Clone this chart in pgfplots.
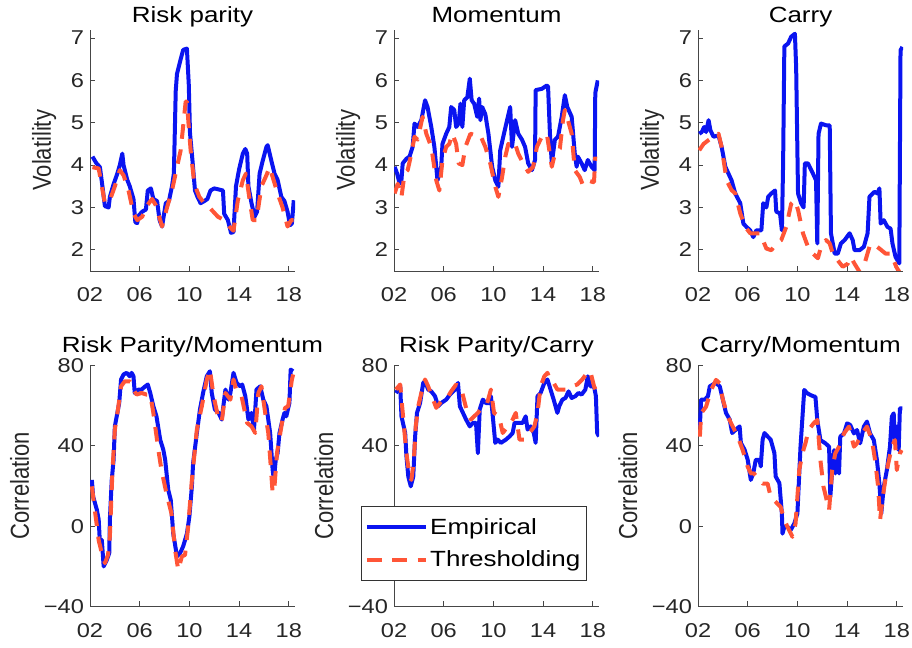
\documentclass[border=0pt]{standalone}
\usepackage{pgfplots}
\pgfplotsset{compat=1.18}
\usepackage{fontspec}
\setmainfont{Liberation Sans}[FakeStretch=1.18]
\newfontfamily\labfont{Liberation Sans}
\definecolor{empblue}{RGB}{10,20,240}
\definecolor{thrred}{RGB}{255,85,55}
\definecolor{axgray}{RGB}{70,70,70}

\pgfplotsset{
panel/.style={
  scale only axis, width=153.75pt, height=181.1pt,
  anchor=south west,
  xmin=2002, xmax=2018.5,
  axis x line*=bottom, axis y line*=left,
  axis line style={axgray, line width=0.6pt, -},
  tick align=inside, major tick length=4pt,
  tick style={axgray, line width=0.6pt},
  xtick={2002,2006,2010,2014,2018},
  xticklabels={02,06,10,14,18},
  ticklabel style={font=\fontsize{15}{18}\selectfont, text=black!85},
  xticklabel style={yshift=-9pt},
  yticklabel style={xshift=-1pt},
  every axis y label/.style={at={(ticklabel cs:0.5)}, anchor=near ticklabel, xscale=1.18, rotate=90},
  ylabel style={font=\labfont\fontsize{16.5}{19}\selectfont, text=black!85},
  ylabel shift=3.5pt,
  title style={font=\fontsize{16.5}{19}\selectfont, anchor=base},
},
vol/.style={panel, ymin=1.5, ymax=7.2, ytick={2,3,4,5,6,7}, yticklabels={2,3,4,5,6,7},
  ylabel={Volatility}, title style={yshift=-0.75pt}},
cor/.style={panel, ymin=-40, ymax=80, ytick={-40,0,40,80}, yticklabels={−40,0,40,80},
  ylabel={Correlation}, title style={yshift=3.5pt}},
empline/.style={empblue, line width=3pt, line join=round, no marks},
thrline/.style={thrred, line width=3pt, dash pattern=on 11pt off 8pt, line join=round, no marks},
}

\begin{document}
\begin{tikzpicture}

% ---- volatility, top row ----
\begin{axis}[vol, at={(67.5pt,282.75pt)}, title={Risk parity}]
\addplot[empline] coordinates {
(2002.2,4.2) (2002.5,4.05) (2002.8,3.95) (2003.0,3.5) (2003.2,3.03) (2003.5,3.0) (2003.6,3.25)
(2003.9,3.55) (2004.2,3.8) (2004.4,4.0) (2004.6,4.27) (2004.7,4.0) (2005.0,3.65) (2005.2,3.5)
(2005.5,3.2) (2005.65,2.65) (2005.8,2.63) (2005.9,2.8) (2006.2,2.9) (2006.5,2.95) (2006.65,3.4)
(2006.9,3.45) (2007.1,3.2) (2007.4,3.15) (2007.6,2.7) (2007.8,2.55) (2008.1,3.1) (2008.35,3.15)
(2008.6,3.5) (2008.75,3.8) (2008.9,5.75) (2009.0,6.15) (2009.3,6.5) (2009.5,6.72) (2009.8,6.75)
(2009.95,5.9) (2010.05,4.75) (2010.25,4.1) (2010.45,3.4) (2010.65,3.25) (2010.9,3.1) (2011.2,3.15)
(2011.45,3.2) (2011.7,3.4) (2012.0,3.45) (2012.7,3.4) (2012.8,2.85) (2013.1,2.7) (2013.35,2.4)
(2013.55,2.42) (2013.75,3.5) (2014.0,3.9) (2014.3,4.27) (2014.5,4.38) (2014.65,4.27) (2014.75,3.5)
(2015.0,3.1) (2015.25,2.78) (2015.45,2.9) (2015.65,3.8) (2015.9,4.1) (2016.2,4.43) (2016.3,4.47)
(2016.6,4.1) (2016.85,3.8) (2017.1,3.65) (2017.4,3.25) (2017.65,3.15) (2017.9,2.9) (2018.1,2.58)
(2018.25,2.62) (2018.4,3.17)
};
\addplot[thrline] coordinates {
(2002.2,3.95) (2002.7,3.92) (2002.95,3.5) (2003.2,3.1) (2003.6,3.17) (2004.0,3.5) (2004.4,3.88)
(2004.7,3.76) (2005.1,3.4) (2005.5,2.86) (2005.8,2.7) (2006.2,2.78) (2006.6,3.05) (2007.0,3.2)
(2007.3,3.05) (2007.7,2.65) (2007.8,2.55) (2008.2,3.0) (2008.6,3.4) (2009.0,3.95) (2009.3,4.35)
(2009.7,5.5) (2009.8,5.5) (2009.95,4.9) (2010.1,4.35) (2010.4,3.55) (2010.8,3.25) (2011.2,3.1)
(2011.7,2.97) (2012.3,2.78) (2012.8,2.7) (2013.2,2.55) (2013.55,2.45) (2013.9,3.17) (2014.3,3.64)
(2014.55,3.8) (2014.85,3.17) (2015.1,2.7) (2015.4,2.7) (2015.8,3.5) (2016.2,3.76) (2016.45,3.95)
(2016.7,3.72) (2017.1,3.33) (2017.5,3.0) (2017.9,2.55) (2018.2,2.7) (2018.5,2.7)
};
\end{axis}

\begin{axis}[vol, at={(295.5pt,282.75pt)}, title={Momentum}]
\addplot[empline] coordinates {
(2002.05,3.96) (2002.25,3.8) (2002.45,3.56) (2002.6,3.65) (2002.7,4.04) (2003.0,4.15) (2003.25,4.2)
(2003.5,4.43) (2003.65,4.98) (2003.9,4.9) (2004.2,5.06) (2004.5,5.53) (2004.7,5.37) (2005.0,4.9)
(2005.25,4.43) (2005.5,3.64) (2005.65,3.8) (2005.8,3.96) (2005.9,4.5) (2006.2,4.74) (2006.45,4.9)
(2006.6,5.37) (2006.85,5.3) (2007.0,4.9) (2007.2,4.98) (2007.35,5.45) (2007.5,4.9) (2007.65,5.53)
(2007.9,5.6) (2008.1,6.04) (2008.25,5.53) (2008.45,5.45) (2008.7,5.14) (2008.85,5.57) (2008.95,5.06)
(2009.1,5.37) (2009.35,5.2) (2009.6,4.74) (2009.9,3.96) (2010.15,3.64) (2010.4,3.49) (2010.55,4.35)
(2010.85,4.74) (2011.1,5.06) (2011.35,5.37) (2011.5,4.43) (2011.75,5.06) (2012.0,4.74) (2012.3,4.6)
(2012.55,4.43) (2012.8,4.04) (2013.1,3.88) (2013.35,4.12) (2013.4,5.77) (2013.9,5.8) (2014.3,5.88)
(2014.4,5.85) (2014.55,4.74) (2014.7,4.04) (2014.95,4.6) (2015.2,4.67) (2015.5,5.14) (2015.75,5.65)
(2015.95,5.37) (2016.3,5.14) (2016.55,4.27) (2016.7,3.96) (2016.8,4.2) (2017.1,4.04) (2017.35,3.88)
(2017.6,4.12) (2017.9,3.96) (2018.15,3.88) (2018.2,5.7) (2018.4,6.0)
};
\addplot[thrline] coordinates {
(2002.05,3.33) (2002.3,3.56) (2002.6,3.25) (2002.85,3.8) (2003.1,3.88) (2003.4,4.27) (2003.65,4.67)
(2003.9,4.6) (2004.3,5.14) (2004.6,4.74) (2005.0,4.43) (2005.4,3.64) (2005.65,3.4) (2005.9,4.12)
(2006.2,4.43) (2006.45,4.5) (2006.7,4.74) (2007.0,4.5) (2007.2,4.04) (2007.5,4.0) (2007.75,4.43)
(2008.15,4.74) (2008.55,4.7) (2008.95,4.7) (2009.35,4.43) (2009.75,4.04) (2010.15,3.49) (2010.4,3.25)
(2010.7,3.72) (2010.95,4.19) (2011.2,4.5) (2011.5,4.43) (2011.75,4.5) (2012.0,4.27) (2012.4,4.04)
(2012.8,3.84) (2013.2,3.96) (2013.5,4.43) (2013.9,4.67) (2014.3,4.74) (2014.7,3.96) (2014.95,4.27)
(2015.35,4.39) (2015.6,5.06) (2015.75,5.3) (2016.0,5.06) (2016.3,4.74) (2016.55,3.88) (2016.95,3.72)
(2017.2,3.53) (2017.6,3.64) (2018.0,3.6) (2018.1,3.6) (2018.2,4.2)
};
\end{axis}

\begin{axis}[vol, at={(523.5pt,282.75pt)}, title={Carry}]
\addplot[empline] coordinates {
(2002.1,4.74) (2002.3,4.78) (2002.5,4.9) (2002.65,4.78) (2002.85,5.06) (2003.0,4.82) (2003.25,4.67)
(2003.65,4.7) (2003.9,4.43) (2004.2,3.96) (2004.45,3.8) (2004.7,3.64) (2005.0,3.33) (2005.4,3.1)
(2005.65,2.62) (2005.9,2.54) (2006.2,2.46) (2006.45,2.3) (2006.7,2.46) (2006.95,2.46) (2007.1,2.46)
(2007.25,3.1) (2007.5,3.0) (2007.65,3.25) (2007.9,3.33) (2008.2,3.4) (2008.3,2.9) (2008.6,2.86)
(2008.75,2.46) (2008.85,4.04) (2008.95,6.8) (2009.25,6.87) (2009.5,7.03) (2009.8,7.1) (2009.9,6.3)
(2010.05,3.33) (2010.3,3.1) (2010.5,3.0) (2010.6,4.04) (2010.85,4.04) (2011.25,3.8) (2011.5,3.64)
(2011.6,2.15) (2011.7,4.74) (2011.9,4.98) (2012.3,4.94) (2012.6,4.94) (2012.7,2.39) (2013.0,1.91)
(2013.25,1.91) (2013.5,2.15) (2013.8,2.23) (2014.2,2.39) (2014.45,2.23) (2014.6,1.99) (2015.0,1.99)
(2015.35,2.07) (2015.65,2.39) (2015.8,3.25) (2016.2,3.37) (2016.45,3.33) (2016.6,3.45) (2016.7,2.62)
(2016.95,2.7) (2017.25,2.54) (2017.5,2.5) (2017.65,2.15) (2017.9,1.83) (2018.2,1.68) (2018.3,6.71)
(2018.45,6.79)
};
\addplot[thrline] coordinates {
(2002.1,4.35) (2002.45,4.5) (2002.85,4.59) (2003.25,4.67) (2003.65,4.74) (2003.9,4.43) (2004.3,3.64)
(2004.7,3.41) (2005.0,3.33) (2005.4,2.86) (2005.8,2.54) (2006.2,2.39) (2006.6,2.39) (2007.0,2.39)
(2007.5,2.03) (2007.9,1.99) (2008.3,2.15) (2008.7,2.23) (2009.1,2.54) (2009.5,3.09) (2009.8,3.17)
(2010.05,2.94) (2010.45,2.39) (2010.85,2.07) (2011.25,1.91) (2011.65,1.8) (2011.9,2.07) (2012.3,2.23)
(2012.6,2.15) (2012.85,1.91) (2013.25,1.75) (2013.65,1.6) (2014.05,1.67) (2014.3,1.83) (2014.6,1.67)
(2015.0,1.48) (2015.4,1.67) (2015.8,2.07) (2016.05,2.15) (2016.6,2.03) (2017.1,1.91) (2017.55,1.91)
(2017.95,1.6) (2018.2,1.48)
};
\end{axis}

% ---- correlation, bottom row ----
\begin{axis}[cor, at={(67.5pt,31pt)}, title={Risk Parity/Momentum}]
\addplot[empline] coordinates {
(2002.15,23) (2002.25,14.8) (2002.55,8.2) (2002.7,3.2) (2002.8,-8.6) (2002.95,-6.8) (2003.1,-20)
(2003.35,-16.8) (2003.55,-13.4) (2003.6,3.2) (2003.75,23) (2003.9,33) (2004.0,49.6) (2004.15,54.6)
(2004.35,61.2) (2004.5,72.9) (2004.7,75.4) (2004.95,76.2) (2005.2,74.5) (2005.35,76.2) (2005.5,74.5)
(2005.6,66.2) (2005.9,67.9) (2006.15,67.9) (2006.45,69.5) (2006.65,70.4) (2006.85,66.2) (2007.1,59.6)
(2007.35,54.6) (2007.65,43) (2007.9,38) (2008.05,33) (2008.3,18) (2008.5,13) (2008.7,-3.7)
(2009.0,-15) (2009.25,-13.4) (2009.5,-10) (2009.8,-3.7) (2010.0,4.8) (2010.2,19.8) (2010.3,31.4)
(2010.6,46.3) (2010.85,58) (2011.1,66.2) (2011.4,74.5) (2011.65,77) (2011.8,66.2) (2012.05,58)
(2012.35,56.3) (2012.6,53) (2012.9,67.9) (2013.15,62.9) (2013.3,66.2) (2013.55,76.2) (2013.8,71.2)
(2014.1,69.5) (2014.25,70.4) (2014.5,64.6) (2014.75,53) (2015.0,56.3) (2015.2,48) (2015.4,67.9)
(2015.7,69.5) (2015.95,62.9) (2016.2,59.6) (2016.5,46.3) (2016.7,28) (2016.8,23) (2016.95,33)
(2017.1,36.3) (2017.25,46.3) (2017.5,53) (2017.65,56.3) (2017.8,54.6) (2018.05,61.2) (2018.15,77.8)
(2018.35,77)
};
\addplot[thrline] coordinates {
(2002.15,19.8) (2002.35,9.9) (2002.7,-7) (2002.95,-13.4) (2003.2,-18.4) (2003.45,-14.3) (2003.6,-5)
(2003.8,26.4) (2004.0,48) (2004.25,58) (2004.5,69.5) (2004.8,72) (2005.2,72) (2005.5,67.9)
(2005.75,65.4) (2006.15,66.2) (2006.55,65.4) (2006.85,65.4) (2007.1,56.3) (2007.5,38) (2007.75,28)
(2008.15,16.4) (2008.55,6.5) (2008.85,-11.8) (2009.1,-21.7) (2009.4,-15) (2009.65,-14.3) (2009.9,-0.3)
(2010.2,23) (2010.6,48) (2011.0,59.6) (2011.4,72.9) (2011.65,77.8) (2011.95,64.6) (2012.35,53)
(2012.6,52) (2012.9,66.2) (2013.3,62.9) (2013.55,72.9) (2013.8,67) (2014.2,64.6) (2014.65,51.3)
(2015.0,49.6) (2015.3,46.3) (2015.55,66.2) (2015.8,69.5) (2016.1,56.3) (2016.35,46.3) (2016.55,29.7)
(2016.7,16.4) (2016.85,19.8) (2017.05,36.3) (2017.45,51.3) (2017.7,58.8) (2017.95,59.6) (2018.25,72.9)
(2018.35,75.4)
};
\end{axis}

\begin{axis}[cor, at={(295.5pt,31pt)}, title={Risk Parity/Carry},
  legend style={at={(axis description cs:-0.16,0.415)}, anchor=north west,
    draw=black!80, line width=0.5pt, font=\fontsize{16.5}{19}\selectfont,
    inner xsep=2.5pt, inner ysep=6.5pt, row sep=7pt},
  legend cell align=left,
  legend image code/.code={\draw[#1] (0pt,0pt) -- (44pt,0pt);}]
\addplot[empline] coordinates {
(2002.15,66.2) (2002.35,67.9) (2002.5,69.5) (2002.6,54.6) (2002.9,46.3) (2003.0,34.7) (2003.15,24.7)
(2003.35,19.8) (2003.55,24.7) (2003.7,44.6) (2003.85,56.3) (2004.1,61.2) (2004.35,71.2) (2004.5,72)
(2004.75,67.9) (2005.0,67) (2005.3,64.6) (2005.55,59.6) (2005.8,61.2) (2006.2,62.9) (2006.5,65.4)
(2006.9,67.9) (2007.15,71.2) (2007.3,59.6) (2007.55,56.3) (2007.8,53) (2008.1,49.6) (2008.35,51.3)
(2008.6,51.3) (2008.75,36.3) (2008.9,58) (2009.15,62.9) (2009.4,61.2) (2009.7,61.2) (2009.8,64.6)
(2009.95,54.6) (2010.15,41.4) (2010.35,43) (2010.6,41.4) (2011.0,43) (2011.3,44.6) (2011.55,46.3)
(2011.7,51.3) (2011.95,51.3) (2012.35,51.3) (2012.6,54.6) (2012.75,48) (2013.0,49.6) (2013.25,46.3)
(2013.4,41.4) (2013.55,64.6) (2013.8,66.2) (2014.1,71.2) (2014.35,72.9) (2014.6,67.9) (2014.85,62.9)
(2015.15,56.3) (2015.3,59.6) (2015.55,62.9) (2015.8,63.7) (2016.05,67) (2016.3,63.7) (2016.6,64.6)
(2016.85,66.2) (2017.1,65.4) (2017.4,67.9) (2017.6,74.5) (2017.8,69.5) (2018.1,69.5) (2018.25,64.6)
(2018.35,46.3) (2018.5,44.6)
};
\addlegendentry{Empirical}
\addplot[thrline] coordinates {
(2002.15,67.9) (2002.5,70.4) (2002.75,53) (2003.0,36.3) (2003.25,24.7) (2003.4,23) (2003.6,33)
(2003.75,49.6) (2003.95,59.6) (2004.2,66.2) (2004.5,72.9) (2004.75,69.5) (2005.15,62.9) (2005.4,58.8)
(2005.8,62) (2006.2,62.9) (2006.6,67) (2007.0,70.4) (2007.4,68.7) (2007.7,61.2) (2007.9,56.3)
(2008.2,53) (2008.45,54.6) (2008.75,56.3) (2009.15,59.6) (2009.5,61.2) (2009.8,67.9) (2010.05,56.3)
(2010.45,54.6) (2010.75,46.3) (2011.15,49.6) (2011.55,53) (2011.8,56.3) (2012.1,43) (2012.5,43)
(2012.9,46.3) (2013.3,49.6) (2013.55,56.3) (2013.8,69.5) (2014.1,74.5) (2014.35,76.2) (2014.6,72)
(2014.85,71.2) (2015.15,67.9) (2015.55,67.9) (2015.95,67.9) (2016.35,69.5) (2016.75,70.4) (2017.15,72.9)
(2017.55,76.2) (2017.8,77) (2018.1,69.5) (2018.35,66.2)
};
\addlegendentry{Thresholding}
\end{axis}

\begin{axis}[cor, at={(523.5pt,31pt)}, title={Carry/Momentum}]
\addplot[empline] coordinates {
(2002.15,49.6) (2002.25,62.9) (2002.55,62.9) (2002.8,64.6) (2002.95,69.5) (2003.2,70.4) (2003.45,71.2)
(2003.75,69.5) (2004.0,62.9) (2004.25,56.3) (2004.55,53) (2004.75,46.3) (2005.05,48) (2005.35,49.6)
(2005.45,41.4) (2005.75,38) (2006.0,33) (2006.25,23) (2006.45,26.4) (2006.65,33) (2006.95,33)
(2007.05,29.7) (2007.2,43) (2007.35,46.3) (2007.6,44.6) (2007.85,43) (2008.15,36.3) (2008.25,24.7)
(2008.55,21.4) (2008.75,6.3) (2008.8,-3.7) (2008.95,-0.3) (2009.2,-0.3) (2009.45,-2) (2009.75,1.3)
(2010.0,6.3) (2010.25,39.5) (2010.55,67.7) (2010.8,66) (2011.05,65.2) (2011.35,64.4) (2011.45,64.4)
(2011.6,52.8) (2011.85,42.8) (2012.25,41.2) (2012.55,39.5) (2012.65,14.6) (2012.8,27.9) (2012.95,37.8)
(2013.05,26.2) (2013.2,37.8) (2013.35,26.2) (2013.45,44.5) (2013.75,46.1) (2014.0,51.1) (2014.25,50.3)
(2014.55,46.1) (2014.8,47.8) (2015.05,41.2) (2015.35,49.5) (2015.6,52) (2015.85,46.1) (2016.15,42.8)
(2016.4,32.9) (2016.6,21.2) (2016.75,6.3) (2016.95,19.6) (2017.2,27.9) (2017.45,39.5) (2017.6,54.4)
(2017.75,56.1) (2017.85,41.2) (2018.0,49.5) (2018.15,37.8) (2018.25,58.6) (2018.45,58.6)
};
\addplot[thrline] coordinates {
(2002.15,44.5) (2002.25,56.1) (2002.65,59.4) (2003.05,67.7) (2003.45,72.7) (2003.75,71) (2004.0,62.9)
(2004.4,54.4) (2004.8,49.5) (2005.2,44.5) (2005.6,37.8) (2006.0,29.5) (2006.25,26.2) (2006.5,26.2)
(2006.95,22.9) (2007.2,21.2) (2007.6,21.2) (2007.85,14.6) (2008.25,12.1) (2008.65,9.6) (2008.95,3)
(2009.2,-0.3) (2009.6,-5.3) (2009.85,1.3) (2010.15,27.9) (2010.4,36.2) (2010.65,41.2) (2010.9,47.8)
(2011.3,51.1) (2011.6,52.8) (2011.85,32.9) (2012.1,19.6) (2012.55,8) (2012.8,27.9) (2013.05,36.2)
(2013.35,39.5) (2013.75,46.1) (2014.15,49.5) (2014.55,39.5) (2014.8,41.2) (2015.2,46.1) (2015.6,49.5)
(2016.0,42.8) (2016.25,32.9) (2016.5,19.6) (2016.65,3) (2016.95,17.9) (2017.2,27.9) (2017.6,39.5)
(2017.85,42.8) (2018.0,27.9) (2018.25,36.2) (2018.4,37.8)
};
\end{axis}

\pgfresetboundingbox
\path (0pt,0pt) rectangle (684pt,486pt);
\end{tikzpicture}
\end{document}
